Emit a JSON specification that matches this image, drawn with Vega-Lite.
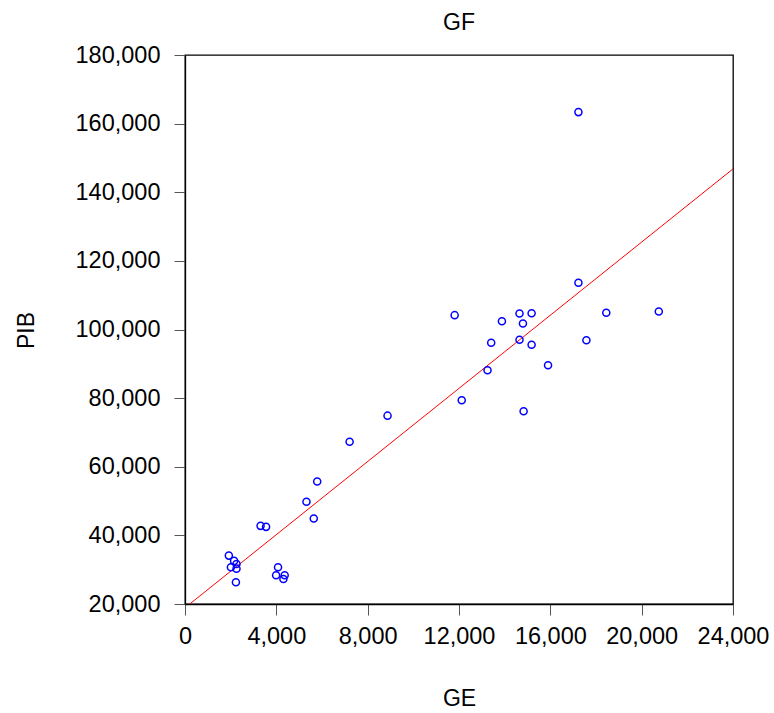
{
  "$schema": "https://vega.github.io/schema/vega-lite/v6.json",
  "width": 548,
  "height": 549,
  "autosize": {"type": "none"},
  "padding": {"left": 185, "top": 55, "right": 41, "bottom": 109},
  "title": {
    "text": "GF",
    "font": "Liberation Sans",
    "fontSize": 23,
    "fontWeight": "normal",
    "color": "black",
    "offset": 8
  },
  "data": {
    "values": [
      {"GE": 17230, "PIB": 163360},
      {"GE": 17230, "PIB": 113630},
      {"GE": 11810, "PIB": 104180},
      {"GE": 14650, "PIB": 104670},
      {"GE": 15180, "PIB": 104760},
      {"GE": 18450, "PIB": 104870},
      {"GE": 20750, "PIB": 105260},
      {"GE": 13880, "PIB": 102420},
      {"GE": 14800, "PIB": 101750},
      {"GE": 13410, "PIB": 96120},
      {"GE": 14650, "PIB": 96990},
      {"GE": 15180, "PIB": 95530},
      {"GE": 17580, "PIB": 96870},
      {"GE": 15900, "PIB": 89580},
      {"GE": 13250, "PIB": 88120},
      {"GE": 12120, "PIB": 79360},
      {"GE": 14830, "PIB": 76150},
      {"GE": 8870, "PIB": 74890},
      {"GE": 7210, "PIB": 67300},
      {"GE": 5790, "PIB": 55700},
      {"GE": 5320, "PIB": 49780},
      {"GE": 5640, "PIB": 44900},
      {"GE": 3310, "PIB": 42770},
      {"GE": 3550, "PIB": 42480},
      {"GE": 1920, "PIB": 34100},
      {"GE": 2150, "PIB": 32560},
      {"GE": 2255, "PIB": 31680},
      {"GE": 2010, "PIB": 30710},
      {"GE": 2255, "PIB": 30300},
      {"GE": 2230, "PIB": 26340},
      {"GE": 4075, "PIB": 30710},
      {"GE": 3990, "PIB": 28380},
      {"GE": 4365, "PIB": 28380},
      {"GE": 4310, "PIB": 27300}
    ]
  },
  "layer": [
    {
      "transform": [{"regression": "PIB", "on": "GE", "extent": [0, 24000]}],
      "mark": {"type": "line", "color": "red", "strokeWidth": 1, "clip": true},
      "encoding": {
        "x": {"field": "GE", "type": "quantitative", "scale": {"domain": [0, 24000], "nice": false}},
        "y": {"field": "PIB", "type": "quantitative", "scale": {"domain": [20000, 180000], "nice": false, "zero": false}}
      }
    },
    {
      "mark": {"type": "point", "shape": "circle", "filled": false, "color": "blue", "size": 50, "strokeWidth": 1.5, "opacity": 1},
      "encoding": {
        "x": {
          "field": "GE",
          "type": "quantitative",
          "scale": {"domain": [0, 24000], "nice": false},
          "axis": {
            "values": [0, 4000, 8000, 12000, 16000, 20000, 24000],
            "format": ",d",
            "labelPadding": 9,
            "titleY": 101,
            "titleBaseline": "alphabetic"
          }
        },
        "y": {
          "field": "PIB",
          "type": "quantitative",
          "scale": {"domain": [20000, 180000], "nice": false, "zero": false},
          "axis": {
            "values": [20000, 40000, 60000, 80000, 100000, 120000, 140000, 160000, 180000],
            "format": ",d",
            "labelPadding": 14,
            "titleX": -152,
            "titleY": 275,
            "titleBaseline": "alphabetic"
          }
        }
      }
    }
  ],
  "config": {
    "view": {"stroke": "black", "strokeWidth": 1.3},
    "axis": {
      "grid": false,
      "domainColor": "black",
      "domainWidth": 1.3,
      "tickColor": "#555555",
      "tickWidth": 1,
      "tickSize": 11,
      "labelFont": "Liberation Sans",
      "labelFontSize": 23.5,
      "labelColor": "black",
      "labelFlush": false,
      "labelOverlap": false,
      "titleFont": "Liberation Sans",
      "titleFontSize": 23,
      "titleFontWeight": "normal",
      "titleColor": "black"
    }
  }
}
